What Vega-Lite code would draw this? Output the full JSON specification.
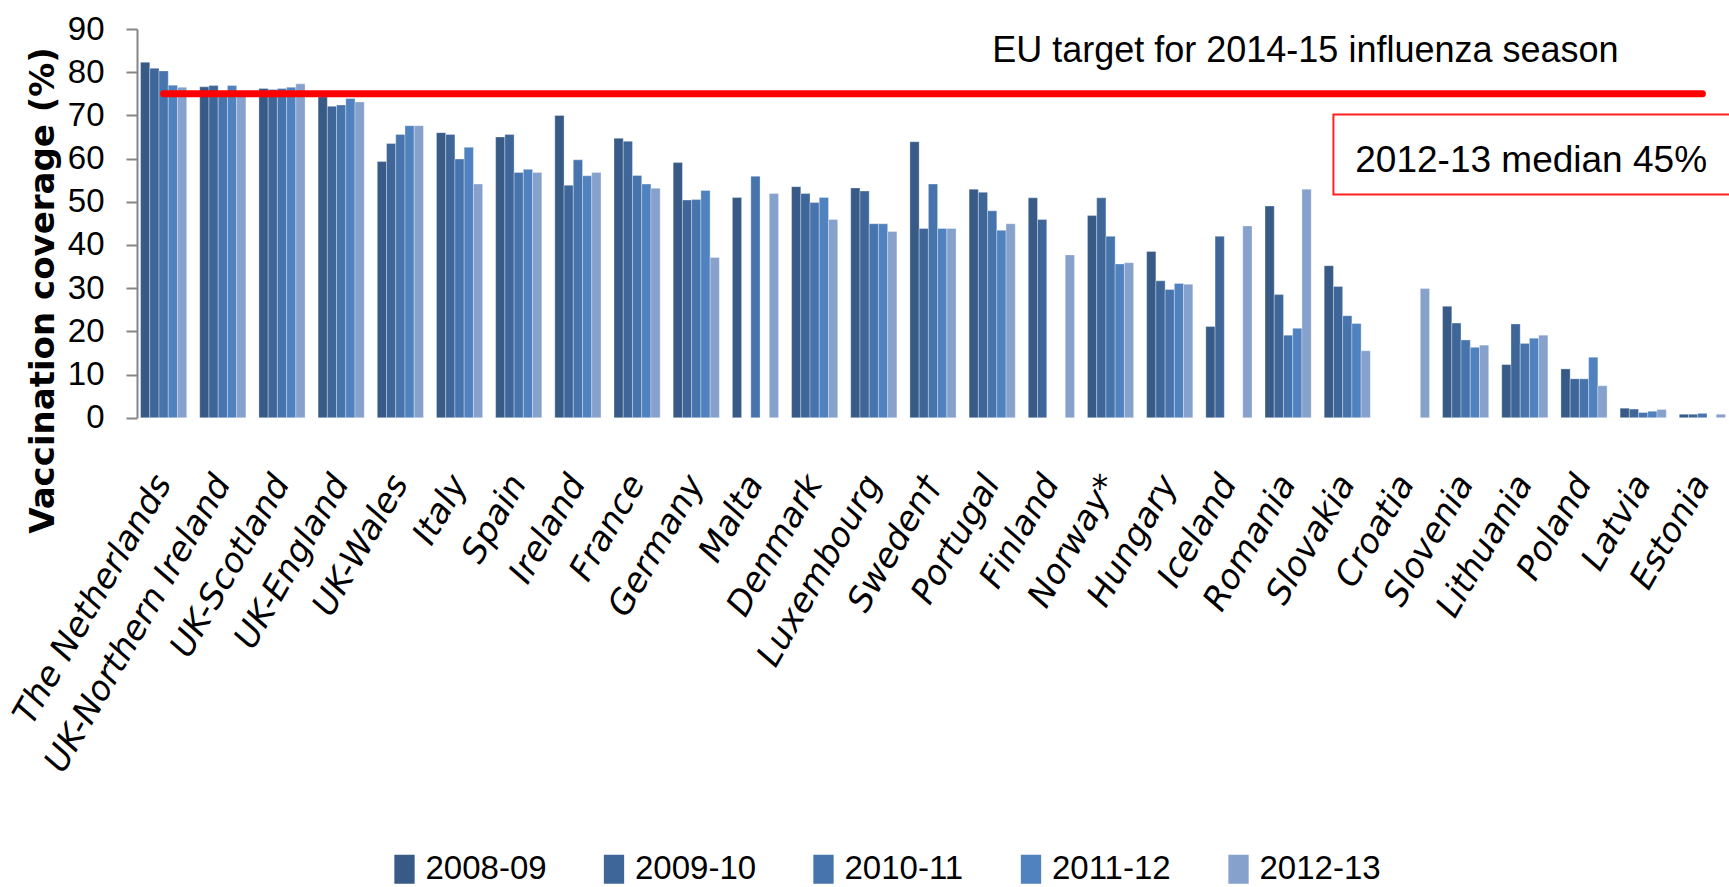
{
  "$schema": "https://vega.github.io/schema/vega-lite/v6.json",
  "width": 1592,
  "height": 388.7,
  "autosize": {"type": "none"},
  "padding": {"left": 137, "top": 29, "right": 0, "bottom": 469.3},
  "background": "white",
  "config": {"view": {"stroke": null}},
  "datasets": {
    "cov": [
      {"country": "The Netherlands", "season": "2008-09", "value": 82.3},
      {"country": "The Netherlands", "season": "2009-10", "value": 80.9},
      {"country": "The Netherlands", "season": "2010-11", "value": 80.3},
      {"country": "The Netherlands", "season": "2011-12", "value": 77.0},
      {"country": "The Netherlands", "season": "2012-13", "value": 76.5},
      {"country": "UK-Northern Ireland", "season": "2008-09", "value": 76.6},
      {"country": "UK-Northern Ireland", "season": "2009-10", "value": 76.9},
      {"country": "UK-Northern Ireland", "season": "2010-11", "value": 75.5},
      {"country": "UK-Northern Ireland", "season": "2011-12", "value": 76.9},
      {"country": "UK-Northern Ireland", "season": "2012-13", "value": 75.5},
      {"country": "UK-Scotland", "season": "2008-09", "value": 76.2},
      {"country": "UK-Scotland", "season": "2009-10", "value": 76.0},
      {"country": "UK-Scotland", "season": "2010-11", "value": 76.2},
      {"country": "UK-Scotland", "season": "2011-12", "value": 76.5},
      {"country": "UK-Scotland", "season": "2012-13", "value": 77.3},
      {"country": "UK-England", "season": "2008-09", "value": 74.3},
      {"country": "UK-England", "season": "2009-10", "value": 72.1},
      {"country": "UK-England", "season": "2010-11", "value": 72.4},
      {"country": "UK-England", "season": "2011-12", "value": 73.9},
      {"country": "UK-England", "season": "2012-13", "value": 73.1},
      {"country": "UK-Wales", "season": "2008-09", "value": 59.3},
      {"country": "UK-Wales", "season": "2009-10", "value": 63.5},
      {"country": "UK-Wales", "season": "2010-11", "value": 65.6},
      {"country": "UK-Wales", "season": "2011-12", "value": 67.6},
      {"country": "UK-Wales", "season": "2012-13", "value": 67.6},
      {"country": "Italy", "season": "2008-09", "value": 66.0},
      {"country": "Italy", "season": "2009-10", "value": 65.6},
      {"country": "Italy", "season": "2010-11", "value": 59.9},
      {"country": "Italy", "season": "2011-12", "value": 62.6},
      {"country": "Italy", "season": "2012-13", "value": 54.1},
      {"country": "Spain", "season": "2008-09", "value": 65.0},
      {"country": "Spain", "season": "2009-10", "value": 65.6},
      {"country": "Spain", "season": "2010-11", "value": 56.8},
      {"country": "Spain", "season": "2011-12", "value": 57.5},
      {"country": "Spain", "season": "2012-13", "value": 56.8},
      {"country": "Ireland", "season": "2008-09", "value": 70.0},
      {"country": "Ireland", "season": "2009-10", "value": 53.8},
      {"country": "Ireland", "season": "2010-11", "value": 59.7},
      {"country": "Ireland", "season": "2011-12", "value": 56.0},
      {"country": "Ireland", "season": "2012-13", "value": 56.8},
      {"country": "France", "season": "2008-09", "value": 64.7},
      {"country": "France", "season": "2009-10", "value": 64.0},
      {"country": "France", "season": "2010-11", "value": 56.1},
      {"country": "France", "season": "2011-12", "value": 54.1},
      {"country": "France", "season": "2012-13", "value": 53.1},
      {"country": "Germany", "season": "2008-09", "value": 59.1},
      {"country": "Germany", "season": "2009-10", "value": 50.4},
      {"country": "Germany", "season": "2010-11", "value": 50.5},
      {"country": "Germany", "season": "2011-12", "value": 52.6},
      {"country": "Germany", "season": "2012-13", "value": 37.1},
      {"country": "Malta", "season": "2008-09", "value": 51.0},
      {"country": "Malta", "season": "2010-11", "value": 55.9},
      {"country": "Malta", "season": "2012-13", "value": 51.9},
      {"country": "Denmark", "season": "2008-09", "value": 53.5},
      {"country": "Denmark", "season": "2009-10", "value": 51.9},
      {"country": "Denmark", "season": "2010-11", "value": 49.8},
      {"country": "Denmark", "season": "2011-12", "value": 51.0},
      {"country": "Denmark", "season": "2012-13", "value": 45.9},
      {"country": "Luxembourg", "season": "2008-09", "value": 53.2},
      {"country": "Luxembourg", "season": "2009-10", "value": 52.5},
      {"country": "Luxembourg", "season": "2010-11", "value": 44.9},
      {"country": "Luxembourg", "season": "2011-12", "value": 44.9},
      {"country": "Luxembourg", "season": "2012-13", "value": 43.1},
      {"country": "Sweden†", "season": "2008-09", "value": 63.9},
      {"country": "Sweden†", "season": "2009-10", "value": 43.8},
      {"country": "Sweden†", "season": "2010-11", "value": 54.1},
      {"country": "Sweden†", "season": "2011-12", "value": 43.8},
      {"country": "Sweden†", "season": "2012-13", "value": 43.8},
      {"country": "Portugal", "season": "2008-09", "value": 52.9},
      {"country": "Portugal", "season": "2009-10", "value": 52.2},
      {"country": "Portugal", "season": "2010-11", "value": 47.9},
      {"country": "Portugal", "season": "2011-12", "value": 43.4},
      {"country": "Portugal", "season": "2012-13", "value": 44.9},
      {"country": "Finland", "season": "2008-09", "value": 50.9},
      {"country": "Finland", "season": "2009-10", "value": 45.9},
      {"country": "Finland", "season": "2012-13", "value": 37.7},
      {"country": "Norway*", "season": "2008-09", "value": 46.8},
      {"country": "Norway*", "season": "2009-10", "value": 50.9},
      {"country": "Norway*", "season": "2010-11", "value": 42.0},
      {"country": "Norway*", "season": "2011-12", "value": 35.6},
      {"country": "Norway*", "season": "2012-13", "value": 35.9},
      {"country": "Hungary", "season": "2008-09", "value": 38.5},
      {"country": "Hungary", "season": "2009-10", "value": 31.7},
      {"country": "Hungary", "season": "2010-11", "value": 29.7},
      {"country": "Hungary", "season": "2011-12", "value": 31.1},
      {"country": "Hungary", "season": "2012-13", "value": 30.9},
      {"country": "Iceland", "season": "2008-09", "value": 21.1},
      {"country": "Iceland", "season": "2009-10", "value": 42.0},
      {"country": "Iceland", "season": "2012-13", "value": 44.4},
      {"country": "Romania", "season": "2008-09", "value": 49.0},
      {"country": "Romania", "season": "2009-10", "value": 28.5},
      {"country": "Romania", "season": "2010-11", "value": 19.1},
      {"country": "Romania", "season": "2011-12", "value": 20.7},
      {"country": "Romania", "season": "2012-13", "value": 52.9},
      {"country": "Slovakia", "season": "2008-09", "value": 35.2},
      {"country": "Slovakia", "season": "2009-10", "value": 30.4},
      {"country": "Slovakia", "season": "2010-11", "value": 23.6},
      {"country": "Slovakia", "season": "2011-12", "value": 21.8},
      {"country": "Slovakia", "season": "2012-13", "value": 15.5},
      {"country": "Croatia", "season": "2012-13", "value": 29.9},
      {"country": "Slovenia", "season": "2008-09", "value": 25.8},
      {"country": "Slovenia", "season": "2009-10", "value": 21.9},
      {"country": "Slovenia", "season": "2010-11", "value": 18.0},
      {"country": "Slovenia", "season": "2011-12", "value": 16.3},
      {"country": "Slovenia", "season": "2012-13", "value": 16.8},
      {"country": "Lithuania", "season": "2008-09", "value": 12.3},
      {"country": "Lithuania", "season": "2009-10", "value": 21.7},
      {"country": "Lithuania", "season": "2010-11", "value": 17.2},
      {"country": "Lithuania", "season": "2011-12", "value": 18.4},
      {"country": "Lithuania", "season": "2012-13", "value": 19.1},
      {"country": "Poland", "season": "2008-09", "value": 11.3},
      {"country": "Poland", "season": "2009-10", "value": 9.0},
      {"country": "Poland", "season": "2010-11", "value": 9.0},
      {"country": "Poland", "season": "2011-12", "value": 14.0},
      {"country": "Poland", "season": "2012-13", "value": 7.4},
      {"country": "Latvia", "season": "2008-09", "value": 2.2},
      {"country": "Latvia", "season": "2009-10", "value": 2.0},
      {"country": "Latvia", "season": "2010-11", "value": 1.2},
      {"country": "Latvia", "season": "2011-12", "value": 1.5},
      {"country": "Latvia", "season": "2012-13", "value": 1.9},
      {"country": "Estonia", "season": "2008-09", "value": 0.8},
      {"country": "Estonia", "season": "2009-10", "value": 0.8},
      {"country": "Estonia", "season": "2010-11", "value": 1.0},
      {"country": "Estonia", "season": "2012-13", "value": 0.8}
    ]
  },
  "layer": [
    {
      "data": {"name": "cov"},
      "mark": {"type": "bar", "stroke": "#ffffff", "strokeWidth": 0.8, "strokeOpacity": 0.4},
      "encoding": {
        "x": {
          "field": "country",
          "type": "nominal",
          "scale": {
            "domain": ["The Netherlands", "UK-Northern Ireland", "UK-Scotland", "UK-England", "UK-Wales", "Italy", "Spain", "Ireland", "France", "Germany", "Malta", "Denmark", "Luxembourg", "Sweden†", "Portugal", "Finland", "Norway*", "Hungary", "Iceland", "Romania", "Slovakia", "Croatia", "Slovenia", "Lithuania", "Poland", "Latvia", "Estonia"],
            "paddingInner": 0.22,
            "paddingOuter": 0.06
          },
          "axis": {
            "title": null,
            "labelAngle": -60,
            "labelAlign": "right",
            "labelBaseline": "middle",
            "labelPadding": 60,
            "labelFont": "DejaVu Sans",
            "labelFontStyle": "italic",
            "labelFontSize": 34,
            "labelColor": "#000000",
            "labelLimit": 0,
            "labelOverlap": false,
            "domain": false,
            "ticks": false
          }
        },
        "xOffset": {
          "field": "season",
          "type": "nominal",
          "scale": {"domain": ["2008-09", "2009-10", "2010-11", "2011-12", "2012-13"], "paddingInner": 0, "paddingOuter": 0}
        },
        "y": {
          "field": "value",
          "type": "quantitative",
          "scale": {"domain": [0, 90], "nice": false},
          "axis": {
            "title": "Vaccination coverage (%)",
            "titleFont": "DejaVu Sans",
            "titleFontWeight": "bold",
            "titleFontSize": 34,
            "titleColor": "#000000",
            "titleX": -84,
            "titleY": 261,
            "titleAlign": "center",
            "titleBaseline": "alphabetic",
            "values": [0, 10, 20, 30, 40, 50, 60, 70, 80, 90],
            "grid": false,
            "domainColor": "#868686",
            "domainWidth": 2,
            "tickColor": "#868686",
            "tickWidth": 2,
            "tickSize": 11,
            "labelFont": "Liberation Sans",
            "labelFontSize": 33,
            "labelColor": "#000000",
            "labelPadding": 22
          }
        },
        "color": {
          "field": "season",
          "type": "nominal",
          "scale": {
            "domain": ["2008-09", "2009-10", "2010-11", "2011-12", "2012-13"],
            "range": ["#375A87", "#3F6699", "#4774AD", "#4F82BF", "#86A1CC"]
          },
          "legend": {
            "title": null,
            "orient": "none",
            "legendX": 251,
            "legendY": 823.5,
            "direction": "horizontal",
            "columns": 5,
            "padding": 0,
            "symbolType": "M-0.7,-1H0.7V1H-0.7Z",
            "symbolSize": 841,
            "symbolStrokeWidth": 0,
            "labelFont": "Liberation Sans",
            "labelFontSize": 33,
            "labelColor": "#000000",
            "labelOffset": 4.5,
            "labelLimit": 0,
            "columnPadding": 50.5
          }
        }
      }
    },
    {
      "data": {"values": [{}]},
      "mark": {"type": "rule", "color": "#FF0000", "strokeWidth": 7, "strokeCap": "round"},
      "encoding": {
        "x": {"datum": "The Netherlands", "type": "nominal"},
        "x2": {"datum": "Estonia"},
        "y": {"datum": 75, "type": "quantitative"}
      }
    },
    {
      "data": {"values": [{}]},
      "mark": {"type": "text", "align": "left", "baseline": "alphabetic", "font": "Liberation Sans", "fontSize": 36, "color": "#000000"},
      "encoding": {
        "x": {"datum": "Portugal", "type": "nominal"},
        "y": {"datum": 82.4, "type": "quantitative"},
        "text": {"value": "EU target for 2014-15 influenza season"}
      }
    },
    {
      "data": {"values": [{}]},
      "mark": {"type": "rect", "fill": "#ffffff", "stroke": "#FF2020", "strokeWidth": 2},
      "encoding": {
        "x": {"datum": "Slovakia", "type": "nominal", "bandPosition": 0.2},
        "x2": {"value": {"expr": "width + 20"}},
        "y": {"datum": 70.2, "type": "quantitative"},
        "y2": {"datum": 51.7}
      }
    },
    {
      "data": {"values": [{}]},
      "mark": {"type": "text", "align": "left", "baseline": "alphabetic", "dx": 8, "font": "Liberation Sans", "fontSize": 37, "color": "#000000"},
      "encoding": {
        "x": {"datum": "Slovakia", "type": "nominal"},
        "y": {"datum": 56.9, "type": "quantitative"},
        "text": {"value": "2012-13 median 45%"}
      }
    }
  ]
}
